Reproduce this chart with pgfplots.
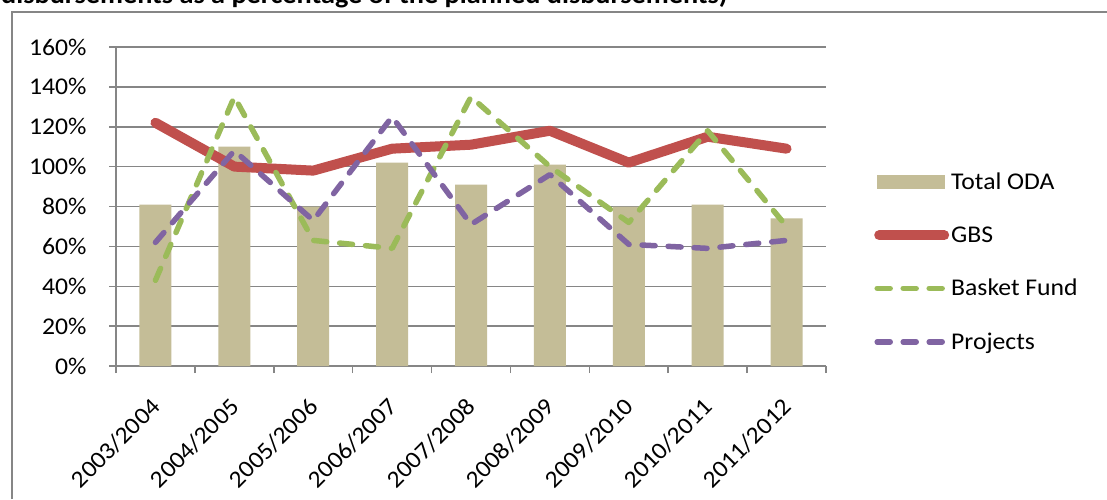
\documentclass[border=0pt]{standalone}
\usepackage{pgfplots}
\pgfplotsset{compat=1.18}
\usepackage{fontspec}
\setmainfont{Carlito}[FakeStretch=1.07]
\definecolor{barc}{HTML}{C4BD97}
\definecolor{gbs}{HTML}{C0504D}
\definecolor{bf}{HTML}{9BBB59}
\definecolor{pj}{HTML}{8064A2}
\definecolor{ax}{HTML}{868686}
\begin{document}
\begin{tikzpicture}
\clip (0,0) rectangle (1107pt,499pt);
\fill[white] (0,0) rectangle (1107pt,499pt);
\draw[ax, line width=2pt] (12pt,0) -- (12pt,487pt) -- (1108pt,487pt);
\node[anchor=base west, font=\bfseries\fontsize{26.4pt}{30pt}\selectfont, inner sep=0pt] at (1pt,495.5pt) {disbursements as a percentage of the planned disbursements)};
\begin{axis}[
  at={(116pt,133pt)}, anchor=south west,
  scale only axis, width=710pt, height=319pt,
  xmin=-0.5, xmax=8.5, ymin=0, ymax=160,
  axis x line=bottom, axis y line=left,
  axis line style={ax, line width=1.5pt, -},
  tick align=outside, major tick length=7pt,
  tick style={ax, line width=1.5pt},
  xtick={-0.5,0.5,...,8.5}, xticklabels={},
  extra x ticks={0,1,2,3,4,5,6,7,8},
  extra x tick labels={2003/2004,2004/2005,2005/2006,2006/2007,2007/2008,2008/2009,2009/2010,2010/2011,2011/2012},
  extra x tick style={major tick length=0pt, tick style={draw=none}},
  xticklabel style={font=\fontsize{24pt}{28pt}\selectfont, rotate=45, anchor=north east, inner sep=0pt, xshift=-25.5pt, yshift=-17.5pt},
  ytick={0,20,...,160},
  yticklabels={0\%,20\%,40\%,60\%,80\%,100\%,120\%,140\%,160\%},
  yticklabel style={font=\fontsize{24pt}{28pt}\selectfont, xshift=-19pt},
  ymajorgrids, grid style={ax, line width=1.5pt},
  legend style={at={(1,0.326)}, anchor=west, xshift=45pt, draw=none, fill=none,
    font=\fontsize{24pt}{28pt}\selectfont, row sep=31.5pt, nodes={inner sep=2pt}},
  legend cell align=left,
]
\addplot[ybar, bar width=32pt, fill=barc, draw=none,
  legend image code/.code={\fill[barc] (3pt,-7pt) rectangle (71pt,7pt);}]
  coordinates {(0,81) (1,110) (2,80) (3,102) (4,91) (5,101) (6,80) (7,81) (8,74)};
\addlegendentry{Total ODA}
\addplot[gbs, line width=10pt, line join=round, line cap=round,
  legend image code/.code={\draw[gbs, line width=10pt, line cap=round] (5pt,0pt) -- (70pt,0pt);}]
  coordinates {(0,122) (1,100) (2,98) (3,109) (4,111) (5,118) (6,102) (7,115) (8,109)};
\addlegendentry{GBS}
\addplot[bf, line width=5.5pt, line join=round, line cap=round, dash pattern=on 13pt off 13pt,
  legend image code/.code={\draw[bf, line width=5.5pt, line cap=round, dash pattern=on 13pt off 13pt] (3pt,0pt) -- (72pt,0pt);}]
  coordinates {(0,43) (1,135) (2,63) (3,59) (4,135) (5,100) (6,72) (7,118) (8,70)};
\addlegendentry{Basket Fund}
\addplot[pj, line width=5.5pt, line join=round, line cap=round, dash pattern=on 13pt off 13pt,
  legend image code/.code={\draw[pj, line width=5.5pt, line cap=round, dash pattern=on 13pt off 13pt] (3pt,0pt) -- (72pt,0pt);}]
  coordinates {(0,62) (1,108) (2,73) (3,125) (4,71) (5,96) (6,61) (7,59) (8,63)};
\addlegendentry{Projects}
\end{axis}
\end{tikzpicture}
\end{document}
